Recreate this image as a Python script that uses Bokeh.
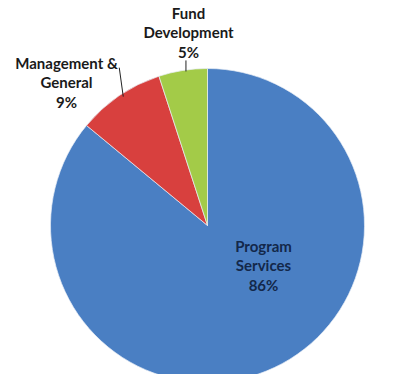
import math
from bokeh.plotting import figure
from bokeh.models import Range1d, ColumnDataSource
from bokeh.core.properties import value
from bokeh.embed import file_html
from bokeh.resources import INLINE

categories = ["Program\nServices", "Management &\nGeneral", "Fund\nDevelopment"]
shares = [86, 9, 5]
colors = ["#4a7fc3", "#d8403e", "#a3cb48"]

W, H = 404, 374
TOP = 390
p = figure(width=W, height=H, output_backend="svg", toolbar_location=None,
           x_range=Range1d(0, W), y_range=Range1d(TOP - H, TOP),
           min_border=0)
p.axis.visible = False
p.grid.visible = False
p.outline_line_color = None
p.background_fill_color = "white"

cx, cy, r = 207, TOP - 225, 157
total = sum(shares)
starts, ends, mids = [], [], []
acc = 0.0
for s in shares:
    a0 = math.pi / 2 - 2 * math.pi * acc / total
    acc += s
    a1 = math.pi / 2 - 2 * math.pi * acc / total
    starts.append(a0)
    ends.append(a1)
    mids.append((a0 + a1) / 2)

src = ColumnDataSource(dict(start=starts, end=ends, color=colors))
p.wedge(x=cx, y=cy, radius=r, start_angle="start", end_angle="end",
        direction="clock", fill_color="color", line_color="#e8eef6",
        line_width=1, line_alpha=0.7, source=src)

labels = [f"{c}\n{s}%" for c, s in zip(categories, shares)]
lx = [263, 66, 188]
ly = [TOP - 265, TOP - 82, TOP - 32]
tcol = ["#13284a", "#1a1a1a", "#1a1a1a"]
p.text(x=lx, y=ly, text=labels, text_align="center", text_baseline="middle",
       text_font=value("Lato"), text_font_style="bold", text_font_size="15px",
       text_color=tcol, text_line_height=1.1)

# leader lines from slice edges to labels
ex = [cx + r * math.cos(mids[i]) for i in (1, 2)]
ey = [cy + r * math.sin(mids[i]) for i in (1, 2)]
x1 = [ex[0] + 4, ex[1] + 3]
y1 = [ey[0] - 1, ey[1] - 1]
x2 = [ex[0], ex[1] + 3]
y2 = [ey[0] + 28, ey[1] + 10]
p.segment(x0=x1, y0=y1, x1=x2, y1=y2, line_color="#222222", line_width=1)

open("out.html", "w").write(file_html(p, INLINE))
